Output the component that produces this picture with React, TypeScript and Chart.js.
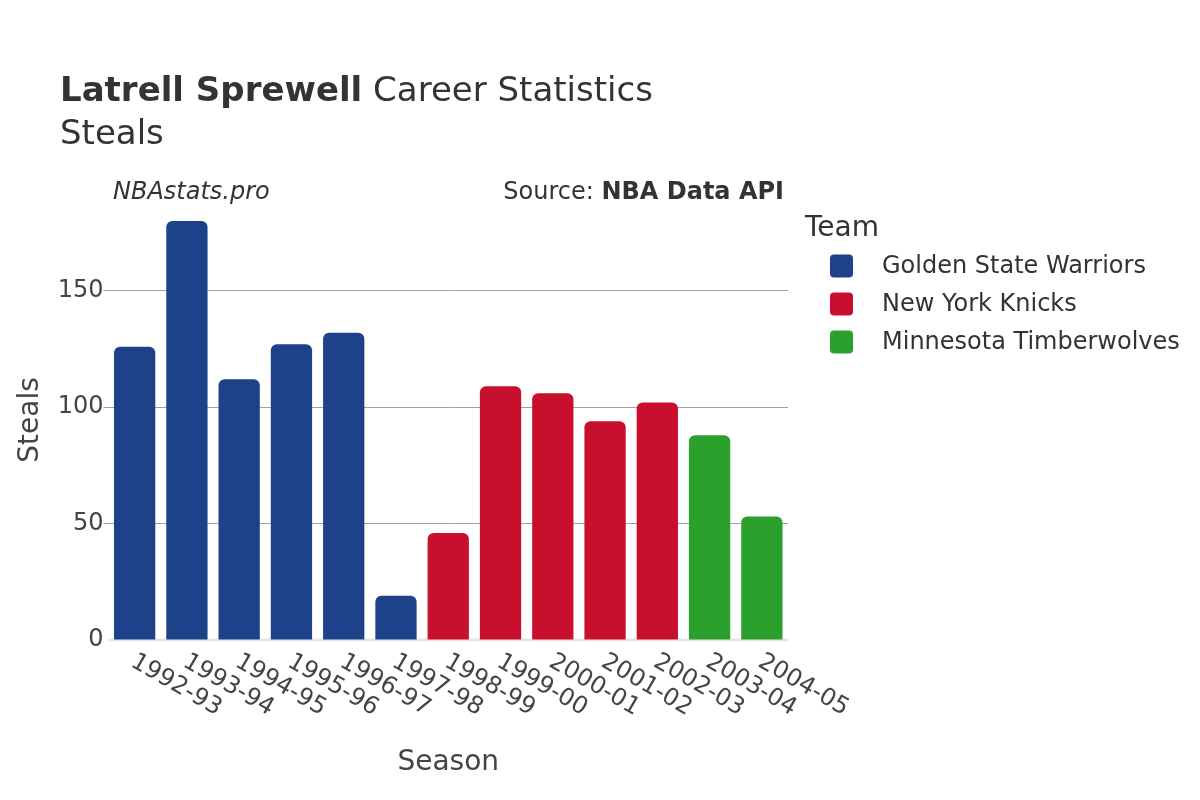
import React, { useEffect, useRef } from "react";
import { Chart, registerables } from "chart.js";

Chart.register(...registerables);

const seasons = ["1992-93", "1993-94", "1994-95", "1995-96", "1996-97", "1997-98", "1998-99", "1999-00", "2000-01", "2001-02", "2002-03", "2003-04", "2004-05"];
const teams = ["Golden State Warriors", "New York Knicks", "Minnesota Timberwolves"];
const teamColors = ["#1d428a", "#c8102e", "#2ca02c"];
const warriorsSteals = [126, 180, 112, 127, 132, 19, null, null, null, null, null, null, null];
const knicksSteals = [null, null, null, null, null, null, 46, 109, 106, 94, 102, null, null];
const wolvesSteals = [null, null, null, null, null, null, null, null, null, null, null, 88, 53];
const yTicks = [0, 50, 100, 150];

const FONT = "'DejaVu Sans', sans-serif";

const decorPlugin = {
  id: "decor",
  beforeDatasetsDraw(chart: any) {
    const { ctx, chartArea } = chart;
    const y0 = chart.scales.y.getPixelForValue(0);
    ctx.save();
    ctx.strokeStyle = "#e6e6e6";
    ctx.lineWidth = 3;
    ctx.beginPath();
    ctx.moveTo(chartArea.left, y0);
    ctx.lineTo(chartArea.right, y0);
    ctx.stroke();
    ctx.restore();
  },
  afterDraw(chart: any) {
    const { ctx, chartArea } = chart;
    ctx.save();
    // Title
    ctx.fillStyle = "#333";
    ctx.textBaseline = "alphabetic";
    ctx.textAlign = "left";
    ctx.font = `bold 34px ${FONT}`;
    const t1 = "Latrell Sprewell";
    ctx.fillText(t1, 60, 101);
    const w1 = ctx.measureText(t1).width;
    ctx.font = `34px ${FONT}`;
    ctx.fillText(" Career Statistics", 60 + w1, 101);
    ctx.fillText("Steals", 60, 144);

    // Sub-captions
    ctx.font = `italic 24px ${FONT}`;
    ctx.fillStyle = "#333";
    ctx.fillText("NBAstats.pro", 113, 199);
    ctx.font = `bold 24px ${FONT}`;
    const src2 = "NBA Data API";
    const ws2 = ctx.measureText(src2).width;
    ctx.textAlign = "right";
    ctx.fillText(src2, 784, 199);
    ctx.font = `24px ${FONT}`;
    ctx.fillText("Source: ", 784 - ws2, 199);

    // Legend
    ctx.textAlign = "left";
    ctx.fillStyle = "#333";
    ctx.font = `28px ${FONT}`;
    ctx.fillText("Team", 805, 236);
    ctx.font = `24px ${FONT}`;
    teams.forEach((name, i) => {
      const cy = 266 + i * 38;
      ctx.fillStyle = teamColors[i];
      ctx.beginPath();
      (ctx as any).roundRect(830, cy - 11.5, 23, 23, 4);
      ctx.fill();
      ctx.fillStyle = "#333";
      ctx.textBaseline = "middle";
      ctx.fillText(name, 882, cy + 1);
    });

    // X tick labels
    const xs = chart.scales.x;
    ctx.fillStyle = "#444";
    ctx.font = `24px ${FONT}`;
    ctx.textBaseline = "middle";
    ctx.textAlign = "left";
    seasons.forEach((s, i) => {
      const cx = xs.getPixelForValue(i);
      ctx.save();
      ctx.translate(cx - 2, 660);
      ctx.rotate(Math.PI / 6);
      ctx.fillText(s, 0, 0);
      ctx.restore();
    });

    // X axis title
    ctx.textAlign = "center";
    ctx.textBaseline = "alphabetic";
    ctx.font = `28px ${FONT}`;
    ctx.fillStyle = "#444";
    ctx.fillText("Season", (chartArea.left + chartArea.right) / 2, 770);
    ctx.restore();
  },
};

export default function App() {
  const ref = useRef<HTMLCanvasElement>(null);
  useEffect(() => {
    document.body.style.margin = "0";
    const mk = (label: string, data: (number | null)[], color: string) => ({
      label,
      data,
      backgroundColor: color,
      borderColor: color,
      borderWidth: 0,
      borderRadius: { topLeft: 6, topRight: 6, bottomLeft: 0, bottomRight: 0 },
      borderSkipped: false as any,
      grouped: false,
      categoryPercentage: 1,
      barPercentage: 0.79,
    });
    const chart = new Chart(ref.current!, {
      type: "bar",
      data: {
        labels: seasons,
        datasets: [
          mk(teams[0], warriorsSteals, teamColors[0]),
          mk(teams[1], knicksSteals, teamColors[1]),
          mk(teams[2], wolvesSteals, teamColors[2]),
        ],
      },
      options: {
        responsive: false,
        animation: false,
        layout: { padding: { top: 200, right: 412, bottom: 160, left: 0 } },
        plugins: {
          legend: { display: false },
          tooltip: { enabled: false },
          title: { display: false },
        },
        scales: {
          x: { display: false },
          y: {
            min: 0,
            max: 189,
            afterFit: (scale: any) => {
              scale.width = 108.5;
            },
            afterBuildTicks: (scale: any) => {
              scale.ticks = yTicks.map((v) => ({ value: v }));
            },
            border: { display: false },
            grid: {
              color: (c: any) => (c.tick && c.tick.value === 0 ? "rgba(0,0,0,0)" : "#a0a0a0"),
              tickColor: (c: any) => (c.tick && c.tick.value === 0 ? "rgba(0,0,0,0)" : "#a0a0a0"),
              tickLength: 5,
              lineWidth: 1,
            },
            ticks: {
              font: { family: FONT, size: 24 },
              color: "#444",
              padding: 0,
            },
            title: {
              display: true,
              text: "Steals",
              font: { family: FONT, size: 28 },
              color: "#444",
              padding: { top: 14, bottom: 0 },
            },
          },
        },
      },
      plugins: [decorPlugin],
    });
    return () => chart.destroy();
  }, []);
  return (
    <div style={{ position: "absolute", left: 0, top: 0, width: 1200, height: 800 }}>
      <canvas ref={ref} width={1200} height={800} style={{ width: 1200, height: 800 }} />
    </div>
  );
}
